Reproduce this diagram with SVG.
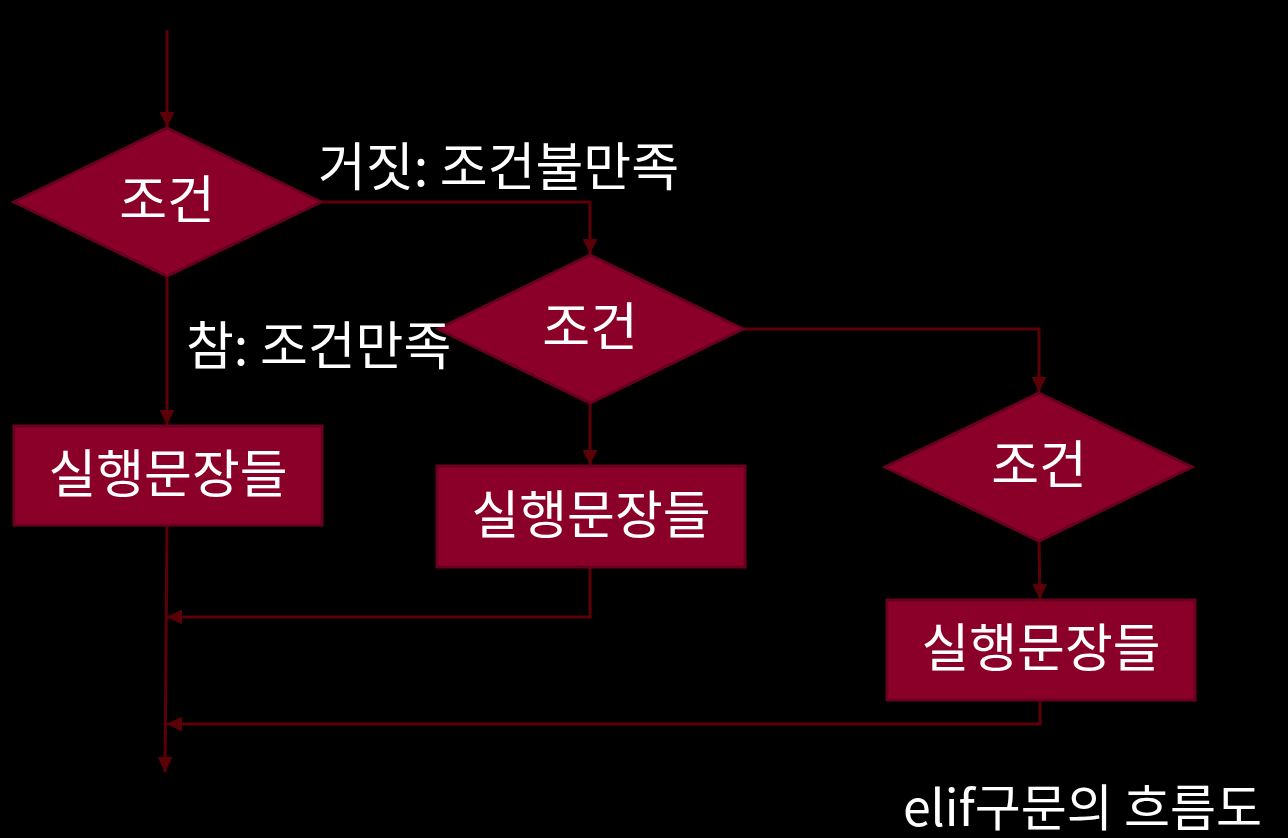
<svg xmlns="http://www.w3.org/2000/svg" width="1288" height="838" viewBox="0 0 1288 838">
<defs>
<marker id="arr" viewBox="0 0 10 10" refX="10" refY="5" markerWidth="5" markerHeight="5" orient="auto" markerUnits="strokeWidth">
<path d="M0,0 L10,5 L0,10 z" fill="#5c0008"/>
</marker>
<style>
.n{fill:#8b0029;stroke:#6a0020;stroke-width:3}
.c{fill:none;stroke:#5c0008;stroke-width:3;marker-end:url(#arr)}
.t{font-family:"Noto Sans CJK KR","Noto Sans",sans-serif;fill:#ffffff;font-size:52px}
.m{text-anchor:middle}
.cap{font-size:50px;text-anchor:end}
</style>
</defs>
<rect width="1288" height="838" fill="#000"/>
<g id="connectors">
<path class="c" d="M167,30 V127"/>
<path class="c" d="M321,202 H590 V254"/>
<path class="c" d="M167,276 V425"/>
<path class="c" d="M743,329 H1039 V392"/>
<path class="c" d="M590,403 V465"/>
<path class="c" d="M1039,541 L1040,599"/>
<path class="c" d="M167,525 L165,772"/>
<path class="c" d="M590,567 V617 H167"/>
<path class="c" d="M1040,700 V724 H167"/>
</g>
<g id="d1"><polygon class="n" points="167,128 321,202 167,276 14,202"/><text class="t m" x="167" y="219">조건</text></g>
<g id="d2"><polygon class="n" points="590,255 743,329 590,403 438,329"/><text class="t m" x="590" y="346">조건</text></g>
<g id="d3"><polygon class="n" points="1039,393 1192,467 1039,541 885,467"/><text class="t m" x="1039" y="484">조건</text></g>
<g id="r1"><rect class="n" x="14" y="426" width="308" height="99"/><text class="t m" x="168" y="493">실행문장들</text></g>
<g id="r2"><rect class="n" x="437" y="466" width="308" height="101"/><text class="t m" x="591" y="534">실행문장들</text></g>
<g id="r3"><rect class="n" x="887" y="600" width="308" height="100"/><text class="t m" x="1041" y="667">실행문장들</text></g>
<g id="labels">
<text class="t" x="318" y="186">거짓: 조건불만족</text>
<text class="t" x="186" y="365">참: 조건만족</text>
<text class="t cap" x="1262" y="826">elif구문의 흐름도</text>
</g>
</svg>
